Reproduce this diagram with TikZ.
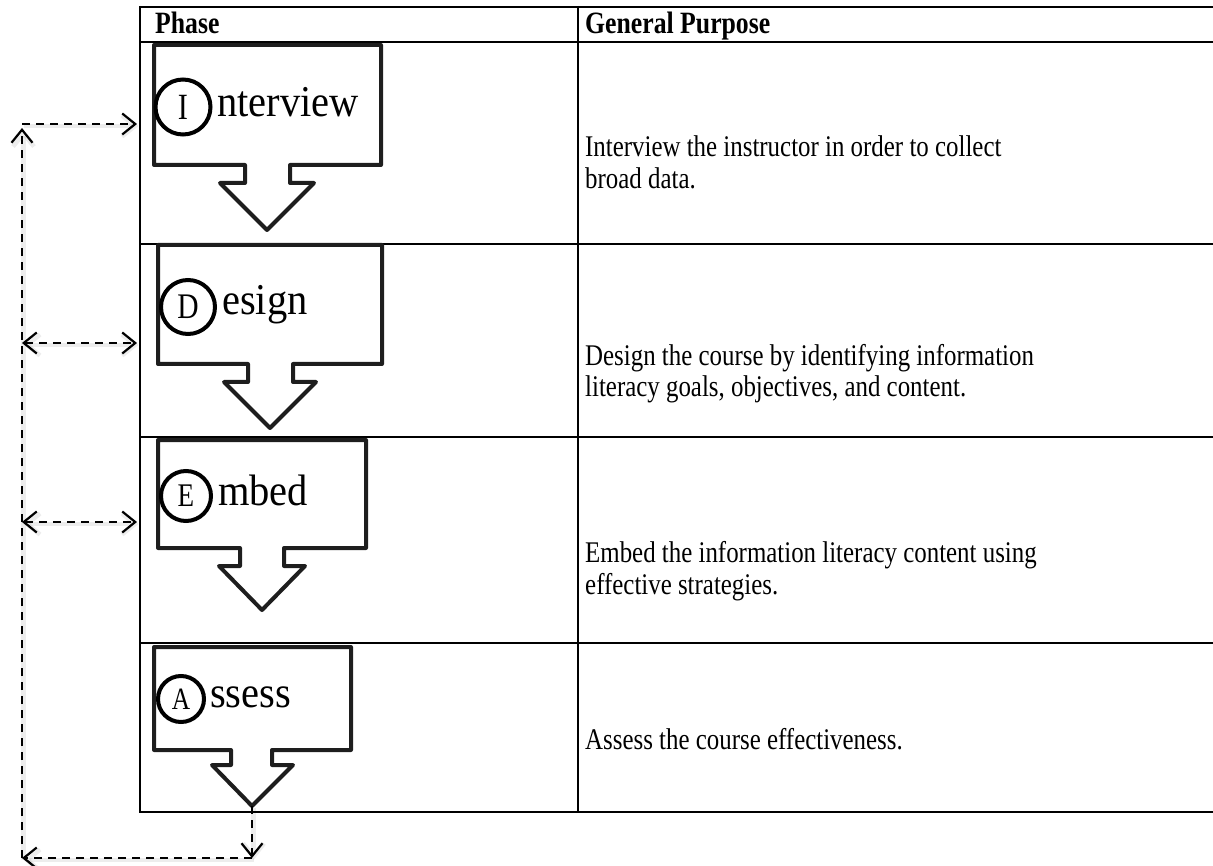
\documentclass[tikz,border=0pt]{standalone}
\usepackage{fontspec}
\setmainfont{Liberation Serif}
\newfontfamily\bodyfont[FakeStretch=0.83]{Liberation Serif}
\newfontfamily\labelfont[FakeStretch=0.92]{Liberation Serif}
\newfontfamily\circfont[FakeStretch=0.82]{Liberation Serif}
\usetikzlibrary{arrows.meta}
\definecolor{shp}{HTML}{1E1E1E}
\begin{document}
\begin{tikzpicture}[x=1pt,y=-1pt,
  tbl/.style={line width=2pt, black},
  phaseshape/.style={draw=shp, line width=4pt, line join=round},
  letter/.style={circle, draw=black, line width=4pt, inner sep=0pt},
  biglabel/.style={anchor=base west, inner sep=0pt, font=\labelfont\fontsize{44}{48}\selectfont},
  purpose/.style={anchor=base west, inner sep=0pt, align=left, font=\bodyfont\fontsize{30}{32}\selectfont},
  head/.style={anchor=base west, inner sep=0pt, font=\bodyfont\bfseries\fontsize{31}{32}\selectfont},
  cyc/.style={line width=2.2pt, dash pattern=on 8pt off 6pt,
    preaction={draw=black, opacity=0.07, line width=4.5pt, transform canvas={shift={(1.5pt,-2pt)}}}},
  barb/.tip={Straight Barb[length=13pt,width=21pt]}
]
\useasboundingbox (0,0) rectangle (1213,866);

% table
\draw[tbl] (140,7) -- (1213,7);
\draw[tbl] (140,42) -- (1213,42);
\draw[tbl] (140,244) -- (1213,244);
\draw[tbl] (140,437) -- (1213,437);
\draw[tbl] (140,643) -- (1213,643);
\draw[tbl] (140,812) -- (1213,812);
\draw[tbl] (140,6) -- (140,813);
\draw[tbl] (578,6) -- (578,813);

\node[head] (hphase) at (155,34) {Phase};
\node[head] (hpurp) at (585,34) {General Purpose};

% phase shapes
\draw[phaseshape] (154,45) -- (381,45) -- (381,165) -- (290,165) -- (290,183) -- (314,183) -- (267,230) -- (220,183) -- (245,183) -- (245,165) -- (154,165) -- cycle;
\draw[phaseshape] (158,245) -- (382,245) -- (382,364) -- (293,364) -- (293,382) -- (316,382) -- (270,428) -- (224,382) -- (248,382) -- (248,364) -- (158,364) -- cycle;
\draw[phaseshape] (158,440) -- (366,440) -- (366,548) -- (284,548) -- (284,566) -- (305,566) -- (262,610) -- (219,566) -- (240,566) -- (240,548) -- (158,548) -- cycle;
\draw[phaseshape] (154,647) -- (351,647) -- (351,750) -- (272,750) -- (272,765) -- (293,765) -- (252,806) -- (212,765) -- (231,765) -- (231,750) -- (154,750) -- cycle;
\coordinate (Atip) at (252,806);

% letters and labels
\node[letter, minimum size=55pt] (cI) at (183,107) {\circfont\fontsize{37}{37}\selectfont I};
\node[biglabel] (tI) at (217,117) {nterview};
\node[letter, minimum size=54pt] (cD) at (188,307) {\circfont\fontsize{36}{36}\selectfont D};
\node[biglabel] (tD) at (222,315) {esign};
\node[letter, minimum size=50pt] (cE) at (186,496) {\circfont\fontsize{33}{33}\selectfont E};
\node[biglabel] (tE) at (218,505) {mbed};
\node[letter, minimum size=46pt] (cA) at (181,699) {\circfont\fontsize{31}{31}\selectfont A};
\node[biglabel] (tA) at (210,707) {ssess};

% purposes (base = baseline of the last line)
\node[purpose] (p1) at (585,189) {Interview the instructor in order to collect\\broad data.};
\node[purpose] (p2) at (585,397) {Design the course by identifying information\\literacy goals, objectives, and content.};
\node[purpose] (p3) at (585,594) {Embed the information literacy content using\\effective strategies.};
\node[purpose] (p4) at (585,749) {Assess the course effectiveness.};

% feedback connectors
\coordinate (Bdown) at (252,858);
\coordinate (Bleft) at (22,858);
\coordinate (Ltop) at (22,124);
\coordinate (Lup) at (22,128);
\coordinate (Rtop) at (137,124);
\coordinate (L2) at (22,343);
\coordinate (R2) at (137,343);
\coordinate (L3) at (22,522);
\coordinate (R3) at (137,522);

\draw[cyc, -barb] (Atip) -- (Bdown);
\draw[cyc, -barb] (Bdown) -- (Bleft);
\draw[cyc, -barb] (Bleft) -- (Lup);
\draw[cyc, -barb] (Ltop) -- (Rtop);
\draw[cyc, barb-barb] (L2) -- (R2);
\draw[cyc, barb-barb] (L3) -- (R3);
\end{tikzpicture}
\end{document}
